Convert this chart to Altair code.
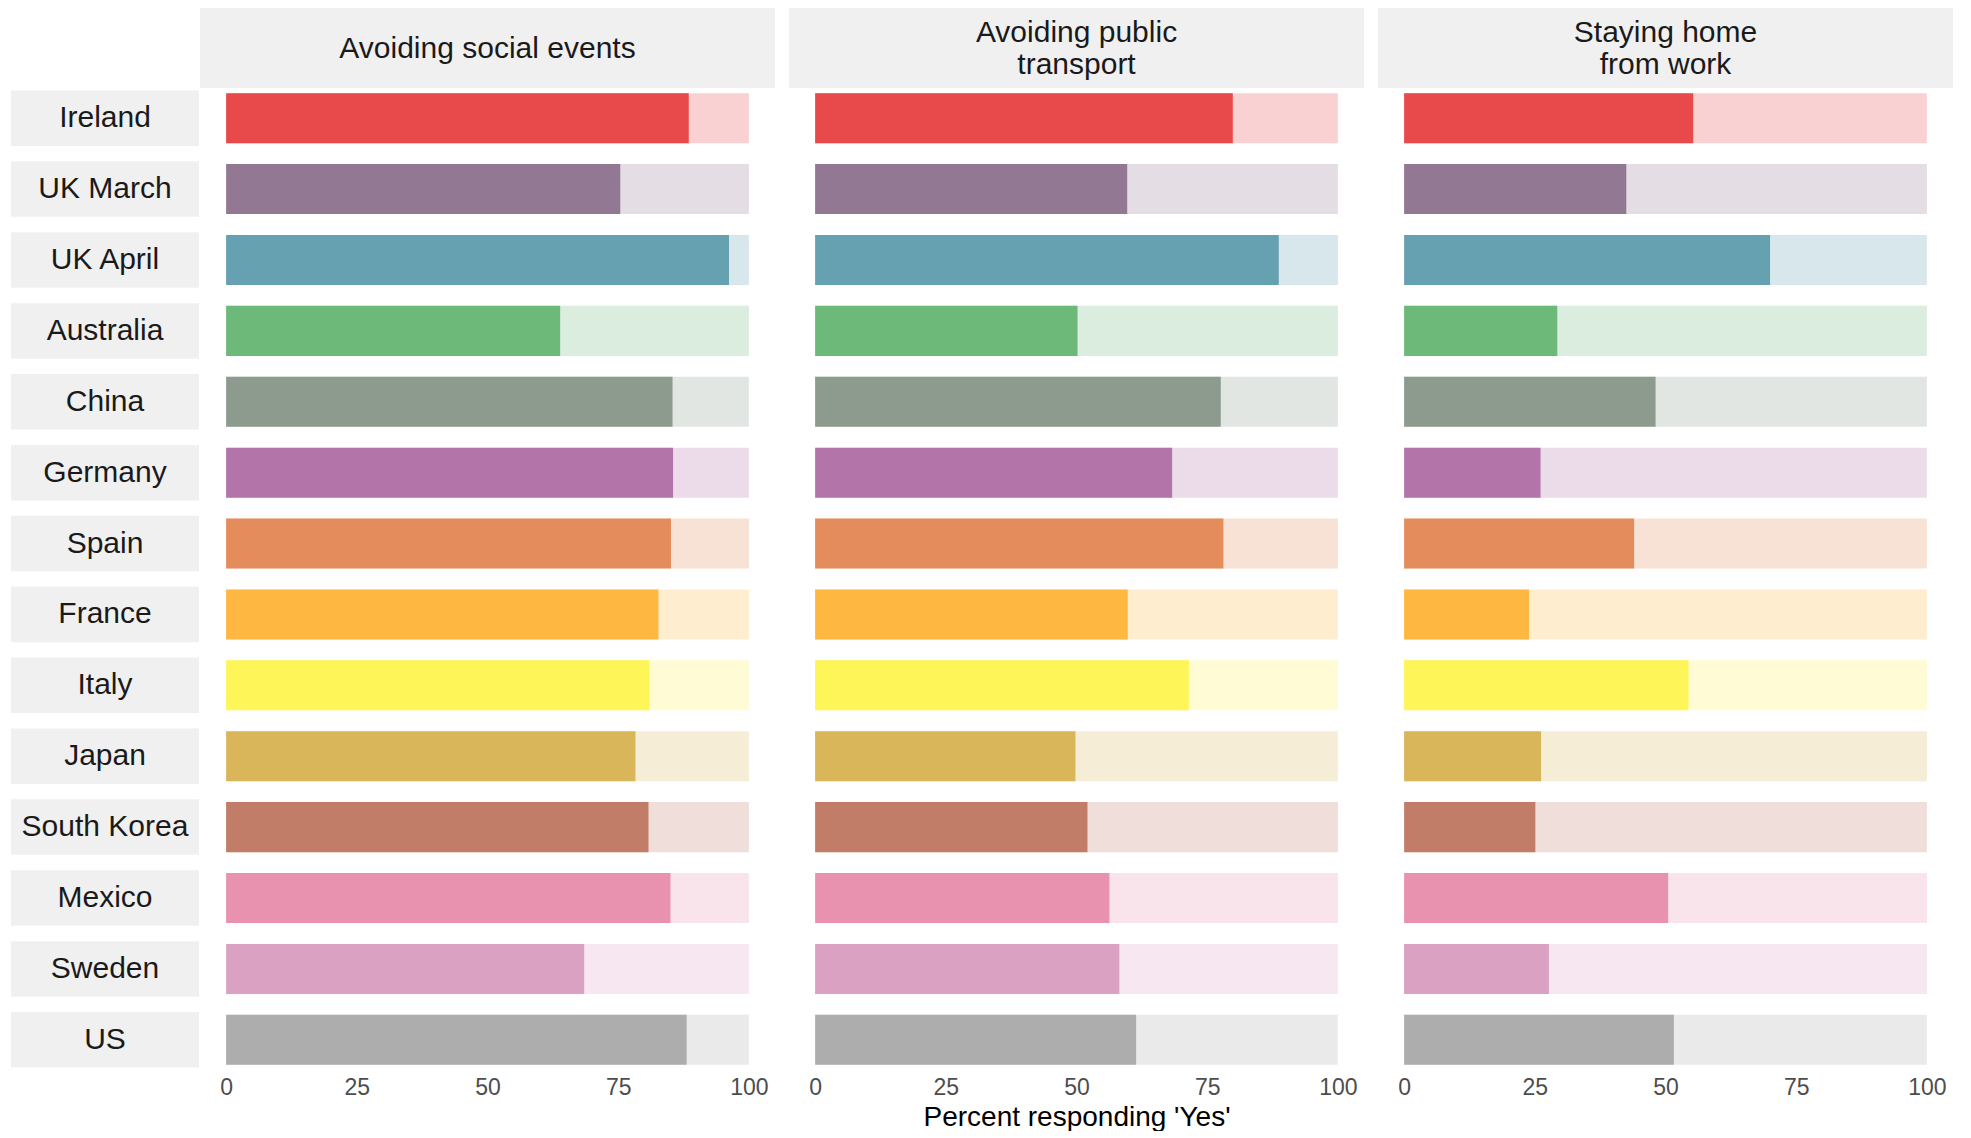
import altair as alt
import pandas as pd

countries = ["Ireland", "UK March", "UK April", "Australia", "China", "Germany", "Spain",
             "France", "Italy", "Japan", "South Korea", "Mexico", "Sweden", "US"]
header_lines = [["Avoiding social events"], ["Avoiding public", "transport"], ["Staying home", "from work"]]
social = [88.5, 75.4, 96.2, 63.9, 85.4, 85.5, 85.1, 82.7, 81.0, 78.3, 80.8, 85.0, 68.5, 88.1]
transport = [79.9, 59.7, 88.7, 50.2, 77.6, 68.3, 78.1, 59.8, 71.5, 49.8, 52.1, 56.3, 58.2, 61.4]
work = [55.3, 42.5, 70.0, 29.3, 48.1, 26.1, 44.0, 23.9, 54.4, 26.2, 25.1, 50.5, 27.7, 51.6]
colors = ["#E8494A", "#937893", "#65A1B1", "#6DB97A", "#8C9B8E", "#B374AA", "#E58C5C",
          "#FEB740", "#FEF559", "#D9B65A", "#C17D68", "#E992B0", "#DAA1C3", "#ADADAD"]
tick_values = [0, 25, 50, 75, 100]
axis_title = "Percent responding 'Yes'"

FONT = "Liberation Sans"
PANEL_W = 575
HEADER_H = 80
BODY_H = 978
LABEL_W = 178
STRIP = "#F0F0F0"
TEXT = "#1A1A1A"
LINE_H = 31.5

color = alt.Color("country:N", scale=alt.Scale(domain=countries, range=colors), legend=None)


def panel(values, title):
    df = pd.DataFrame({"country": countries, "value": values,
                       "lo": [0] * len(values), "hi": [100] * len(values)})
    y = alt.Y("country:N", sort=countries, axis=None,
              scale=alt.Scale(domain=countries, paddingInner=0.2945, paddingOuter=0.045))
    xscale = alt.Scale(domain=[-5, 105], nice=False, zero=False)
    xaxis = alt.Axis(values=tick_values, title=title, grid=False, domain=False, ticks=False,
                     tickSize=0, labelFontSize=23, labelColor="#4D4D4D", labelFont=FONT,
                     labelPadding=8, labelFlush=False, titleFont=FONT, titleFontSize=28,
                     titleFontWeight="normal", titleColor="#000000", titlePadding=4)
    base = alt.Chart(df).encode(y=y, color=color)
    bg = base.mark_bar(opacity=0.25).encode(x=alt.X("lo:Q", scale=xscale, axis=xaxis), x2="hi:Q")
    fg = base.mark_bar(opacity=1).encode(x=alt.X("lo:Q", scale=xscale, axis=xaxis), x2="value:Q")
    return alt.layer(bg, fg).properties(width=PANEL_W, height=BODY_H)


def header(lines):
    df = pd.DataFrame({"k": [0]})
    rect = alt.Chart(df).mark_rect(color=STRIP).encode(
        x=alt.value(0), x2=alt.value(PANEL_W), y=alt.value(0), y2=alt.value(HEADER_H))
    y0 = HEADER_H / 2 + 1 - (len(lines) - 1) * LINE_H / 2
    txt = alt.Chart(df).mark_text(text=lines, font=FONT, fontSize=30, color=TEXT,
                                  lineHeight=LINE_H, align="center", baseline="middle").encode(
        x=alt.value(PANEL_W / 2), y=alt.value(y0))
    return alt.layer(rect, txt).properties(width=PANEL_W, height=HEADER_H)


spacer = alt.Chart(pd.DataFrame({"k": [0]})).mark_rect(opacity=0).encode(
    x=alt.value(0), x2=alt.value(LABEL_W), y=alt.value(0), y2=alt.value(HEADER_H)
).properties(width=LABEL_W, height=HEADER_H)

ldf = pd.DataFrame({"country": countries})
ly = alt.Y("country:N", sort=countries, axis=None,
           scale=alt.Scale(domain=countries, paddingInner=0.217, paddingOuter=0.0065))
lrect = alt.Chart(ldf).mark_bar(color=STRIP).encode(y=ly, x=alt.value(3), x2=alt.value(191))
ltext = alt.Chart(ldf).mark_text(font=FONT, fontSize=30, color=TEXT, align="center",
                                 baseline="middle").encode(y=ly, text="country:N", x=alt.value(97))
labels = alt.layer(lrect, ltext).properties(width=LABEL_W, height=BODY_H)

top = alt.hconcat(spacer, header(header_lines[0]), header(header_lines[1]), header(header_lines[2]),
                  spacing=14, bounds="flush")
bottom = alt.hconcat(labels, panel(social, None), panel(transport, axis_title), panel(work, None),
                     spacing=14, bounds="flush")

chart = alt.vconcat(top, bottom, spacing=2).properties(
    padding=0, background="white"
).configure_view(strokeWidth=0)

chart.save("out.html", embed_options={"renderer": "svg", "actions": False})
